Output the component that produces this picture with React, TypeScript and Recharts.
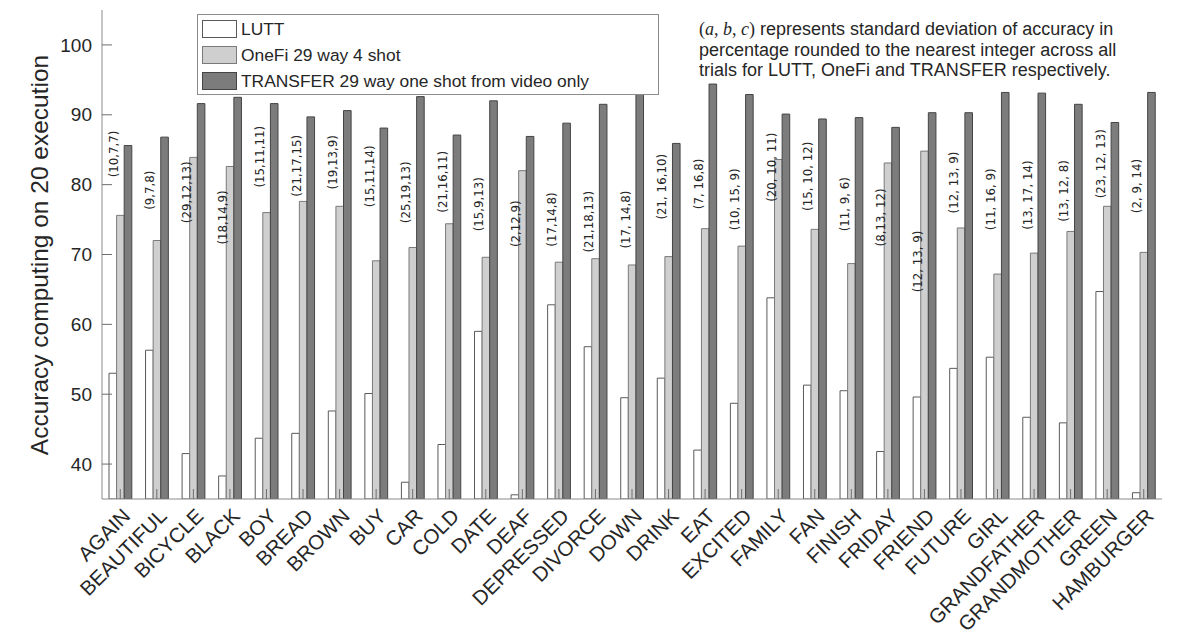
import React from 'react'
import { BarChart, Bar, XAxis, YAxis, LabelList } from 'recharts'

const signs = [
  'AGAIN', 'BEAUTIFUL', 'BICYCLE', 'BLACK', 'BOY', 'BREAD', 'BROWN', 'BUY', 'CAR', 'COLD',
  'DATE', 'DEAF', 'DEPRESSED', 'DIVORCE', 'DOWN', 'DRINK', 'EAT', 'EXCITED', 'FAMILY', 'FAN',
  'FINISH', 'FRIDAY', 'FRIEND', 'FUTURE', 'GIRL', 'GRANDFATHER', 'GRANDMOTHER', 'GREEN', 'HAMBURGER'
]

const lutt = [
  53.0, 56.3, 41.5, 38.3, 43.7, 44.4, 47.6, 50.1, 37.4, 42.8,
  59.0, 35.6, 62.8, 56.8, 49.5, 52.3, 42.0, 48.7, 63.8, 51.3,
  50.5, 41.8, 49.6, 53.7, 55.3, 46.7, 45.9, 64.7, 35.9
]

const oneFi = [
  75.6, 72.0, 83.9, 82.6, 76.0, 77.6, 76.9, 69.1, 71.0, 74.4,
  69.6, 82.0, 68.9, 69.4, 68.5, 69.7, 73.7, 71.2, 83.6, 73.6,
  68.7, 83.1, 84.8, 73.8, 67.2, 70.2, 73.3, 76.9, 70.3
]

const transfer = [
  85.6, 86.8, 91.6, 92.5, 91.6, 89.7, 90.6, 88.1, 92.6, 87.1,
  92.0, 86.9, 88.8, 91.5, 92.9, 85.9, 94.4, 92.9, 90.1, 89.4,
  89.6, 88.2, 90.3, 90.3, 93.2, 93.1, 91.5, 88.9, 93.2
]

// std-dev annotations (LUTT, OneFi, TRANSFER)
const stdLabels = [
  '(10,7,7)', '(9,7,8)', '(29,12,13)', '(18,14,9)', '(15,11,11)', '(21,17,15)', '(19,13,9)',
  '(15,11,14)', '(25,19,13)', '(21,16,11)', '(15,9,13)', '(2,12,9)', '(17,14,8)', '(21,18,13)',
  '(17, 14,8)', '(21, 16,10)', '(7, 16,8)', '(10, 15, 9)', '(20, 10, 11)', '(15, 10, 12)',
  '(11, 9, 6)', '(8,13, 12)', '(12, 13, 9)', '(12, 13, 9)', '(11, 16, 9)', '(13, 17, 14)',
  '(13, 12, 8)', '(23, 12, 13)', '(2, 9, 14)'
]

// accuracy value at which each annotation is centred
const labelAt = [
  84.4, 79.2, 78.9, 75.3, 84.0, 82.7, 83.2, 81.2, 78.9, 80.4,
  77.2, 74.4, 75.0, 74.7, 75.0, 79.7, 80.1, 77.9, 82.5, 81.2,
  77.2, 75.3, 69.0, 80.3, 77.9, 78.5, 79.1, 83.0, 79.8
]

const yTicks = [40, 50, 60, 70, 80, 90, 100]
const Y_MIN = 35
const Y_MAX = 105

const data = signs.map((name, i) => ({
  name,
  lutt: lutt[i],
  oneFi: oneFi[i],
  transfer: transfer[i]
}))

const series = [
  { key: 'lutt', name: 'LUTT', fill: '#ffffff', stroke: '#5a5a5a' },
  { key: 'oneFi', name: 'OneFi 29 way 4 shot', fill: '#cfcfcf', stroke: '#7a7a7a' },
  { key: 'transfer', name: 'TRANSFER 29 way one shot from video only', fill: '#7c7c7c', stroke: '#454545' }
]

const FONT = '"Liberation Sans", Arial, sans-serif'
const TEXT = '#262626'
const AXIS = '#8c8c8c'
const TICK = '#6e6e6e'

const LeftTick = ({ x, y, payload }: any) => (
  <g>
    <line x1={x + 10} x2={x + 20} y1={y} y2={y} stroke={TICK} />
    <text x={x} y={y} dy="0.35em" textAnchor="end" fontSize={19} fontFamily={FONT} fill={TEXT}>
      {payload.value}
    </text>
  </g>
)

const RightTick = ({ x, y }: any) => <line x1={x - 10} x2={x} y1={y} y2={y} stroke={TICK} />

const TopTick = ({ x, y }: any) => <line x1={x} x2={x} y1={y} y2={y + 10} stroke={TICK} />

const BottomTick = ({ x, y, payload }: any) => (
  <g>
    <line x1={x} x2={x} y1={y} y2={y - 10} stroke={TICK} />
    <text
      transform={`translate(${x + 6},${y + 13}) rotate(-45)`}
      textAnchor="end"
      dominantBaseline="central"
      fontSize={20.5}
      fontFamily={FONT}
      fill={TEXT}
    >
      {payload.value}
    </text>
  </g>
)

const StdLabel = (props: any) => {
  const vb = props.viewBox ?? props
  const { x, y, width, height } = vb
  const i = props.index
  const bottom = y + height
  const perUnit = height / (lutt[i] - Y_MIN)
  const cy = bottom - (labelAt[i] - Y_MIN) * perUnit
  const cx = x + width / 2 + 1
  return (
    <text
      transform={`translate(${cx},${cy}) rotate(-90)`}
      textAnchor="middle"
      dominantBaseline="central"
      fontSize={11.8}
      fontFamily='"DejaVu Sans", sans-serif'
      fill={TEXT}
    >
      {stdLabels[i]}
    </text>
  )
}

export default function App() {
  return (
    <div style={{ position: 'absolute', left: 0, top: 0, width: 1196, height: 644, background: '#fff' }}>
      <BarChart
        width={1196}
        height={644}
        data={data}
        margin={{ top: 10, right: 34, bottom: 0, left: 42 }}
        barGap={0}
        barSize={7.6}
      >
        <XAxis
          dataKey="name"
          interval={0}
          height={145}
          tickSize={0}
          tickMargin={0}
          tickLine={false}
          tick={BottomTick}
          axisLine={{ stroke: AXIS }}
        />
        <XAxis
          xAxisId="top"
          dataKey="name"
          orientation="top"
          interval={0}
          height={0}
          tickSize={0}
          tickMargin={0}
          tickLine={false}
          tick={TopTick}
          axisLine={{ stroke: AXIS }}
        />
        <YAxis
          domain={[Y_MIN, Y_MAX]}
          ticks={yTicks}
          allowDataOverflow
          width={60}
          tickSize={0}
          tickMargin={10}
          tickLine={false}
          tick={LeftTick}
          axisLine={{ stroke: AXIS }}
        />
        <YAxis
          yAxisId="right"
          orientation="right"
          domain={[Y_MIN, Y_MAX]}
          ticks={yTicks}
          allowDataOverflow
          width={0}
          tickSize={0}
          tickMargin={0}
          tickLine={false}
          tick={RightTick}
          axisLine={{ stroke: AXIS }}
        />
        {series.map((s) => (
          <Bar
            key={s.key}
            dataKey={s.key}
            name={s.name}
            fill={s.fill}
            stroke={s.stroke}
            strokeWidth={1}
            isAnimationActive={false}
          >
            {s.key === 'lutt' && <LabelList dataKey="lutt" content={StdLabel} />}
          </Bar>
        ))}
      </BarChart>

      {/* legend */}
      <div
        style={{
          position: 'absolute',
          left: 197,
          top: 14,
          width: 462,
          height: 81,
          boxSizing: 'border-box',
          border: `1px solid ${AXIS}`,
          background: '#fff',
          paddingTop: 1,
          fontFamily: FONT,
          fontSize: 17.4,
          color: TEXT
        }}
      >
        {series.map((s) => (
          <div key={s.key} style={{ display: 'flex', alignItems: 'center', height: 26 }}>
            <span
              style={{
                display: 'inline-block',
                width: 35,
                height: 18,
                marginLeft: 4,
                marginRight: 4,
                boxSizing: 'border-box',
                background: s.fill,
                border: `1.5px solid ${s.stroke}`
              }}
            />
            <span style={{ whiteSpace: 'nowrap' }}>{s.name}</span>
          </div>
        ))}
      </div>

      {/* note */}
      <div
        style={{
          position: 'absolute',
          left: 699,
          top: 19,
          fontFamily: FONT,
          fontSize: 18,
          lineHeight: '20.5px',
          color: TEXT,
          whiteSpace: 'nowrap'
        }}
      >
        <div>
          <span style={{ fontFamily: '"Liberation Serif", serif' }}>
            (<i>a</i>, <i>b</i>, <i>c</i>)
          </span>{' '}
          represents standard deviation of accuracy in
        </div>
        <div>percentage rounded to the nearest integer across all</div>
        <div>trials for LUTT, OneFi and TRANSFER respectively.</div>
      </div>

      {/* y axis title */}
      <div
        style={{
          position: 'absolute',
          left: 40,
          top: 255,
          transform: 'translate(-50%, -50%) rotate(-90deg)',
          fontFamily: FONT,
          fontSize: 24.5,
          color: TEXT,
          whiteSpace: 'nowrap'
        }}
      >
        Accuracy computing on 20 execution
      </div>
    </div>
  )
}
